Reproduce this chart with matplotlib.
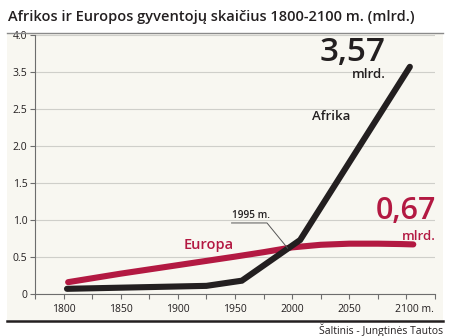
import numpy as np
import matplotlib
matplotlib.use("Agg")
import matplotlib.pyplot as plt
from matplotlib.lines import Line2D
from matplotlib.patches import Rectangle
from matplotlib.transforms import ScaledTranslation

plt.rcParams['font.family'] = ['Open Sans', 'DejaVu Sans']

# population, billions
africa_years = [1803, 1925, 1956, 2007, 2103]
africa_pop = [0.07, 0.11, 0.18, 0.73, 3.57]
europe_years = [1804, 1850, 1900, 1950, 1975, 2000, 2025, 2050, 2075, 2095, 2106]
europe_pop = [0.16, 0.275, 0.39, 0.505, 0.565, 0.63, 0.665, 0.68, 0.68, 0.675, 0.67]

ytick_vals = [0, 0.5, 1.0, 1.5, 2.0, 2.5, 3.5, 4.0]
ytick_labels = ['0', '0.5', '1.0', '1.5', '2.0', '2.5', '3.5', '4.0']
xtick_vals = [1800, 1850, 1900, 1950, 2000, 2050, 2100]
xtick_labels = ['1800', '1850', '1900', '1950', '2000', '2050', '2100 m.']

BLACK = '#231f20'
RED = '#b31942'
PANEL = '#f8f7f1'
GRID = '#cfcfca'
AXIS = '#6d6d6d'


# the 2.5-3.5 step takes the same height as a 0.5 step
def fwd(v):
    v = np.asarray(v, dtype=float)
    return np.where(v <= 2.5, v, np.where(v <= 3.5, 2.5 + (v - 2.5) / 2, v - 0.5))


def inv(p):
    p = np.asarray(p, dtype=float)
    return np.where(p <= 2.5, p, np.where(p <= 3.0, 2.5 + (p - 2.5) * 2, p + 0.5))


W, H = 450, 336
fig = plt.figure(figsize=(W / 100, H / 100), dpi=100, facecolor='white')


def fx(px):
    return px / W


def fy(py):
    return 1 - py / H


# light panel, title rule and bottom rule
fig.patches.append(Rectangle((fx(7), fy(320)), fx(436), 286 / H, transform=fig.transFigure,
                             facecolor=PANEL, edgecolor='none', zorder=-5))
fig.lines.append(Line2D([fx(7), fx(443)], [fy(33), fy(33)], transform=fig.transFigure,
                        color='#8a8a8a', lw=1.0))
fig.lines.append(Line2D([fx(7), fx(443)], [fy(320.5), fy(320.5)], transform=fig.transFigure,
                        color=BLACK, lw=1.8))

fig.text(fx(8), fy(17), 'Afrikos ir Europos gyventojų skaičius 1800-2100 m. (mlrd.)',
         fontsize=10.5, fontweight='semibold', color=BLACK, va='center', ha='left')
fig.text(fx(443), fy(330), 'Šaltinis - Jungtinės Tautos', fontsize=7.5,
         color=BLACK, va='center', ha='right')

ax = fig.add_axes([fx(35), fy(294), 400 / W, 259 / H])
ax.set_facecolor('none')
ax.set_yscale('function', functions=(fwd, inv))
ax.set_xlim(1775, 2125)
ax.set_ylim(0, 4.0)

ax.set_yticks(ytick_vals)
ax.set_yticklabels(ytick_labels)
ax.set_xticks(xtick_vals)
ax.set_xticklabels(xtick_labels)
ax.set_xticks(np.arange(1775, 2126, 25), minor=True)
ax.yaxis.set_minor_locator(matplotlib.ticker.NullLocator())

ax.grid(axis='y', color=GRID, lw=0.8)
ax.set_axisbelow(True)
for s in ['top', 'right']:
    ax.spines[s].set_visible(False)
for s in ['left', 'bottom']:
    ax.spines[s].set_color(AXIS)
    ax.spines[s].set_linewidth(0.8)
ax.tick_params(axis='both', which='both', colors=AXIS, width=0.8, length=3.5,
               labelcolor=BLACK, labelsize=7.5, pad=2)
ax.tick_params(axis='x', which='major', pad=4)
# "m." hangs to the right of the 2100 tick
last = ax.get_xticklabels()[-1]
last.set_transform(last.get_transform() + ScaledTranslation(6 / 72, 0, fig.dpi_scale_trans))

ax.plot(europe_years, europe_pop, color=RED, lw=4.4, solid_capstyle='round',
        solid_joinstyle='round', zorder=3)
ax.plot(africa_years, africa_pop, color=BLACK, lw=4.4, solid_capstyle='round',
        solid_joinstyle='miter', zorder=4)

# crossing marker
ax.plot([1947, 1978, 1996], [0.96, 0.96, 0.62], color='#555555', lw=0.7, zorder=5)
ax.text(1947.5, 0.985, '1995 m.', fontsize=7.2, fontweight='semibold', color=BLACK,
        ha='left', va='bottom', zorder=6)


def ax_xy(px, py):
    return (px - 35) / 400, (294 - py) / 259


ax.text(*ax_xy(386, 61), '3,57', transform=ax.transAxes, fontsize=24,
        fontweight='semibold', color=BLACK, ha='right', va='baseline')
ax.text(*ax_xy(386, 78), 'mlrd.', transform=ax.transAxes, fontsize=9.5,
        fontweight='semibold', color=BLACK, ha='right', va='baseline')
ax.text(*ax_xy(312, 120), 'Afrika', transform=ax.transAxes, fontsize=9.5,
        fontweight='semibold', color=BLACK, ha='left', va='baseline')
ax.text(*ax_xy(436, 219), '0,67', transform=ax.transAxes, fontsize=22,
        fontweight='semibold', color=RED, ha='right', va='baseline')
ax.text(*ax_xy(436, 240), 'mlrd.', transform=ax.transAxes, fontsize=9.5,
        fontweight='semibold', color=RED, ha='right', va='baseline')
ax.text(*ax_xy(184, 249), 'Europa', transform=ax.transAxes, fontsize=10.5,
        fontweight='semibold', color=RED, ha='left', va='baseline')

fig.savefig('out.png', dpi=100, facecolor='white')
